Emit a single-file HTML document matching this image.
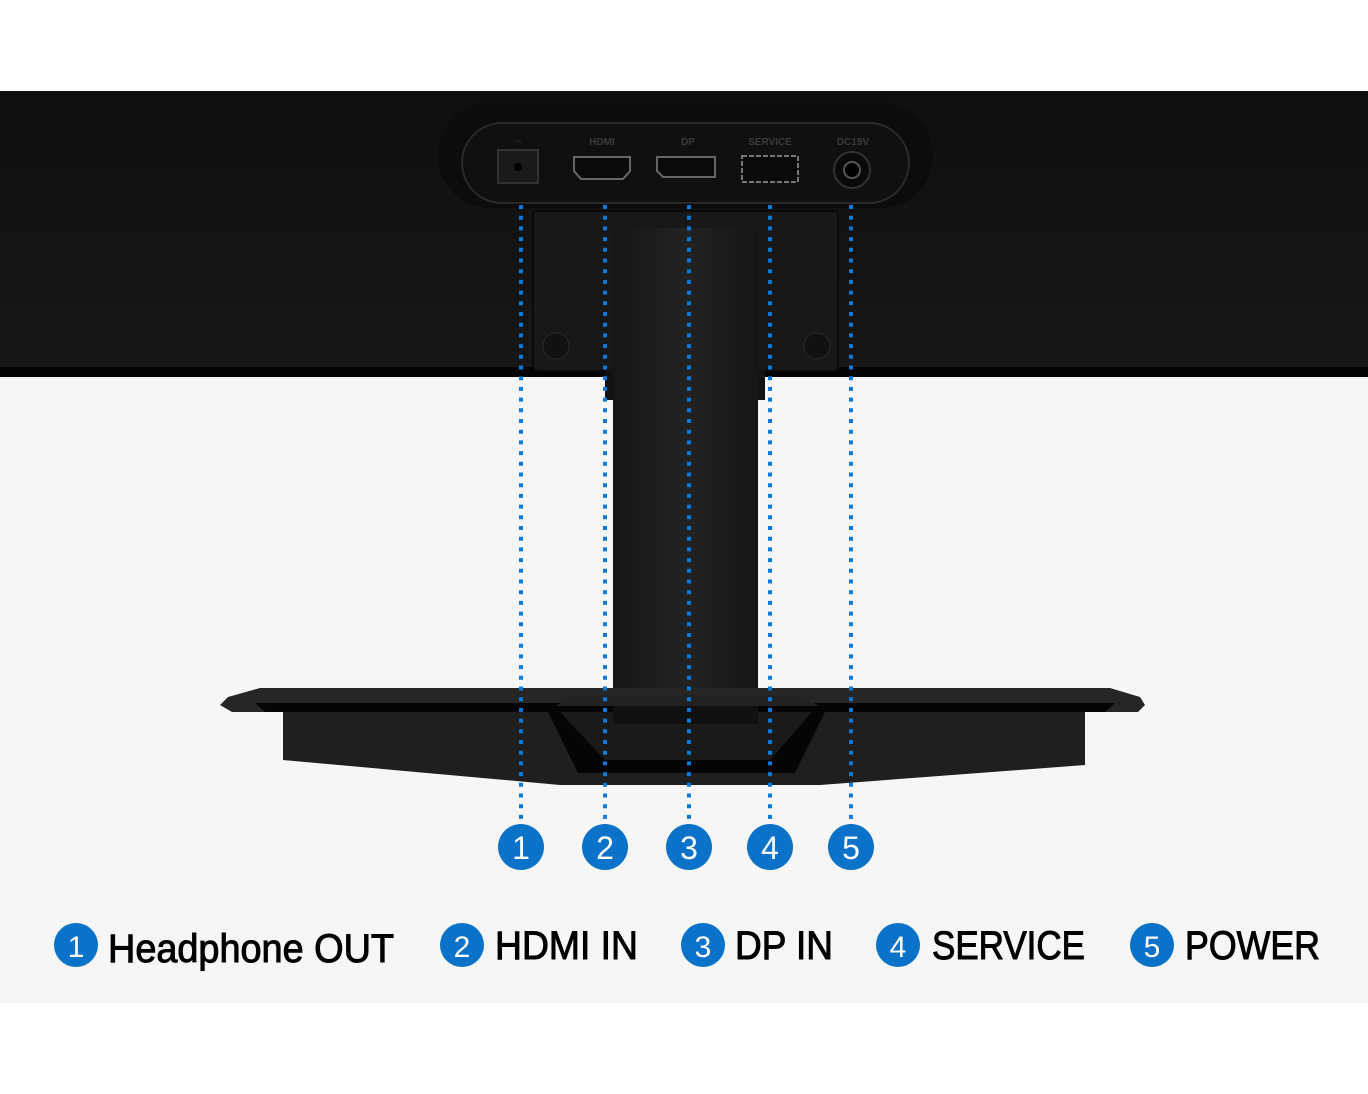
<!DOCTYPE html>
<html><head><meta charset="utf-8"><style>
html,body{margin:0;padding:0;background:#fff;}
svg{display:block;}
</style></head><body>
<svg width="1368" height="1094" viewBox="0 0 1368 1094" xmlns="http://www.w3.org/2000/svg">
<defs>
<linearGradient id="mon" x1="0" y1="0" x2="0" y2="1"><stop offset="0" stop-color="#0f0f0f"/><stop offset="1" stop-color="#171717"/></linearGradient>
<linearGradient id="neck" x1="0" y1="0" x2="1" y2="0"><stop offset="0" stop-color="#161616"/><stop offset="0.5" stop-color="#222"/><stop offset="1" stop-color="#161616"/></linearGradient>
</defs>
<rect x="0" y="0" width="1368" height="1094" fill="#fff"/>
<rect x="0" y="375" width="1368" height="628" fill="#f6f6f6"/>
<rect x="0" y="91" width="1368" height="278" fill="url(#mon)"/>
<rect x="0" y="367" width="1368" height="10" fill="#050505"/>
<rect x="438" y="103" width="495" height="105" rx="52" fill="#0c0c0c"/>
<rect x="462" y="123" width="447" height="80" rx="40" fill="#101010" stroke="#2a2a2a" stroke-width="2"/>
<rect x="533" y="211" width="305" height="160" rx="4" fill="#181818" stroke="#0a0a0a" stroke-width="2"/>
<circle cx="556" cy="346" r="13" fill="#111" stroke="#2a2a2a"/>
<circle cx="817" cy="346" r="13" fill="#111" stroke="#2a2a2a"/>
<rect x="498" y="150" width="40" height="33" fill="#1a1a1a" stroke="#333" stroke-width="2"/>
<circle cx="518" cy="167" r="4" fill="#000"/>
<path d="M574 157 h56 v14 l-7 8 h-42 l-7 -8 z" fill="#0a0a0a" stroke="#666" stroke-width="2"/>
<path d="M657 157 h58 v20 h-52 l-6 -6 z" fill="#0a0a0a" stroke="#666" stroke-width="2"/>
<rect x="742" y="156" width="56" height="26" fill="#0a0a0a" stroke="#777" stroke-width="2" stroke-dasharray="5 2"/>
<circle cx="852" cy="170" r="18" fill="#0a0a0a" stroke="#333" stroke-width="2"/>
<circle cx="852" cy="170" r="8" fill="#000" stroke="#555" stroke-width="2"/>
<g font-family="Liberation Sans, sans-serif" font-size="10" fill="#3a3a3a" font-weight="bold" text-anchor="middle">
<text x="518" y="145">∩</text><text x="602" y="145">HDMI</text><text x="688" y="145">DP</text><text x="770" y="145">SERVICE</text><text x="853" y="145">DC19V</text>
</g>
<rect x="605" y="370" width="160" height="30" fill="#121212"/>
<rect x="613" y="228" width="145" height="495" fill="url(#neck)"/>
<path d="M283 712 L1085 712 L1085 765 L820 785 L560 785 L283 760 Z" fill="#1f1f1f"/>
<path d="M548 712 L578 773 L795 773 L825 712 Z" fill="#050505"/>
<path d="M560 712 L605 760 L770 760 L812 712 Z" fill="#1a1a1a"/>
<path d="M228 697 L260 688 L1110 688 L1140 697 L1145 705 L1138 712 L232 712 L220 705 Z" fill="#262626"/>
<path d="M255 703 L1115 703 L1105 712 L265 712 Z" fill="#050505"/>
<path d="M555 706 L575 695 L795 695 L820 706 Z" fill="#222"/>
<rect x="613" y="706" width="145" height="18" fill="#111"/>
<g stroke="#0a7ad6" stroke-width="4" stroke-dasharray="4 6.7">
<line x1="521" y1="205" x2="521" y2="822"/>
<line x1="605" y1="205" x2="605" y2="822"/>
<line x1="689" y1="205" x2="689" y2="822"/>
<line x1="770" y1="205" x2="770" y2="822"/>
<line x1="851" y1="205" x2="851" y2="822"/>
</g>
<g fill="#0a72c8">
<circle cx="521" cy="847" r="23"/><circle cx="605" cy="847" r="23"/><circle cx="689" cy="847" r="23"/><circle cx="770" cy="847" r="23"/><circle cx="851" cy="847" r="23"/>
<circle cx="76" cy="945" r="22"/><circle cx="462" cy="945" r="22"/><circle cx="703" cy="945" r="22"/><circle cx="898" cy="945" r="22"/><circle cx="1152" cy="945" r="22"/>
</g>
<g font-family="Liberation Sans, sans-serif" font-size="32" fill="#fff" text-anchor="middle">
<text x="521" y="859">1</text><text x="605" y="859">2</text><text x="689" y="859">3</text><text x="770" y="859">4</text><text x="851" y="859">5</text>
<text x="76" y="957" font-size="30">1</text><text x="462" y="957" font-size="30">2</text><text x="703" y="957" font-size="30">3</text><text x="898" y="957" font-size="30">4</text><text x="1152" y="957" font-size="30">5</text>
</g>
<g font-family="Liberation Sans, sans-serif" font-size="40" fill="#000" stroke="#000" stroke-width="1">
<text x="108" y="962" textLength="286" lengthAdjust="spacingAndGlyphs">Headphone OUT</text>
<text x="495" y="959" textLength="143" lengthAdjust="spacingAndGlyphs">HDMI IN</text>
<text x="735" y="959" textLength="98" lengthAdjust="spacingAndGlyphs">DP IN</text>
<text x="932" y="959" textLength="153" lengthAdjust="spacingAndGlyphs">SERVICE</text>
<text x="1185" y="959" textLength="135" lengthAdjust="spacingAndGlyphs">POWER</text>
</g>
</svg>
</body></html>
